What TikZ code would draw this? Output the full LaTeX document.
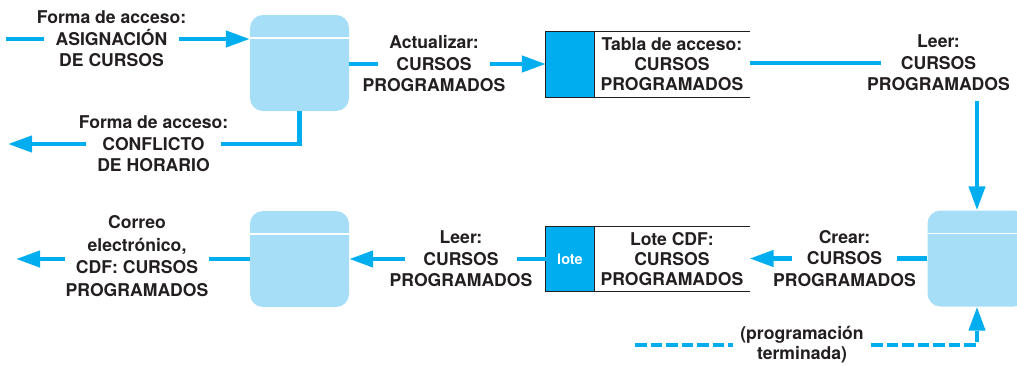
\documentclass[tikz,border=0pt]{standalone}
\usepackage{fontspec}
\setmainfont{TeX Gyre Heros}
\usepackage{tikz}
\usetikzlibrary{positioning,arrows.meta}
\definecolor{ink}{HTML}{231F20}
\definecolor{dfd}{HTML}{00AEEF}
\definecolor{pale}{HTML}{A6DEF7}
\newcommand{\lblfont}{\bfseries\fontsize{17.6}{21}\selectfont}
\tikzset{
  wire/.style={line width=4.3pt, color=dfd},
  flow/.style={wire, -{Triangle[length=24pt,width=16pt]}},
  dwire/.style={wire, dash pattern=on 11.5pt off 4pt},
  dflow/.style={flow, dash pattern=on 11.5pt off 4pt},
  proc/.style={rounded corners=13pt, fill=pale, minimum width=99pt, minimum height=96pt, inner sep=0pt,
    path picture={\draw[white, line width=1.6pt]
      ([yshift=-23pt]path picture bounding box.north west) -- ([yshift=-23pt]path picture bounding box.north east);}},
  stag/.style={fill=dfd, minimum width=48pt, minimum height=65pt, inner sep=0pt, text=white,
    font=\bfseries\fontsize{14.5}{16}\selectfont},
  stext/.style={minimum width=155pt, minimum height=65pt, inner sep=0pt, align=center, text=ink,
    font=\bfseries\fontsize{17.6}{20}\selectfont},
  rim/.style={line width=0.9pt, color=ink},
  lbl/.style={font=\lblfont, text=ink, text height=12.6pt, text depth=0pt, inner ysep=0pt, inner xsep=#1},
  lbl/.default=0pt,
  blk/.style={font=\bfseries\fontsize{17.6}{#1}\selectfont, text=ink, align=center, inner sep=0pt},
}
\begin{document}
\begin{tikzpicture}[x=1pt,y=-1pt]
  \useasboundingbox (0,0) rectangle (1017,365);
  \node[proc] (p1) at (299.5,63) {};
  \node[proc] (p2) at (299.5,259) {};
  \node[proc] (p3) at (977,258.5) {};

  \node[stag] (tag1) at (570,64.5) {};
  \node[stext, right=0pt of tag1] (st1) {Tabla de acceso:\\CURSOS\\PROGRAMADOS};
  \node[stag] (tag2) at (570,259) {lote};
  \node[stext, right=0pt of tag2] (st2) {Lote CDF:\\CURSOS\\PROGRAMADOS};
  \foreach \i in {1,2}
    \draw[rim] (st\i.north east) -- (tag\i.north west) -- (tag\i.south west) -- (st\i.south east)
      (tag\i.north east) -- (tag\i.south east);

  \coordinate (in1) at (6,39);
  \node[lbl=11pt] (asig) at (111.5,39) {ASIGNACIÓN};
  \node[lbl, above=8.4pt of asig] (asigA) {Forma de acceso:};
  \node[lbl, below=8.4pt of asig] (asigB) {DE CURSOS};
  \draw[wire] (in1) -- (asig.west);
  \draw[flow] (asig.east) -- (asig.east -| p1.west);

  \node[lbl=18pt] (upd) at (434,64) {CURSOS};
  \node[lbl, above=8.4pt of upd] (updA) {Actualizar:};
  \node[lbl, below=8.4pt of upd] (updB) {PROGRAMADOS};
  \draw[wire] (upd.west -| p1.east) -- (upd.west);
  \draw[flow] (upd.east) -- (upd.east -| tag1.west);

  \node[lbl=20pt] (rd1) at (938.5,63) {CURSOS};
  \node[lbl, above=8.4pt of rd1] (rd1A) {Leer:};
  \node[lbl, below=8.4pt of rd1] (rd1B) {PROGRAMADOS};
  \draw[wire] (rd1.west -| st1.east) -- (rd1.west);
  \draw[flow, shorten <=10pt] (rd1B.south -| p3.north) -- (p3.north);

  \coordinate (out1) at (8,144);
  \node[lbl=16pt] (cfl) at (153.5,144) {CONFLICTO};
  \node[lbl, above=8.4pt of cfl] (cflA) {Forma de acceso:};
  \node[lbl, below=8.4pt of cfl] (cflB) {DE HORARIO};
  \draw[wire] (p1.south) |- (cfl.east);
  \draw[flow] (cfl.west) -- (out1);

  \node[lbl=15pt] (mk) at (844.5,258.5) {CURSOS};
  \node[lbl, above=8.4pt of mk] (mkA) {Crear:};
  \node[lbl, below=8.4pt of mk] (mkB) {PROGRAMADOS};
  \draw[wire] (mk.east -| p3.west) -- (mk.east);
  \draw[flow] (mk.west) -- (mk.west -| st2.east);

  \node[lbl=18pt] (rd2) at (461,259) {CURSOS};
  \node[lbl, above=8.4pt of rd2] (rd2A) {Leer:};
  \node[lbl, below=8.4pt of rd2] (rd2B) {PROGRAMADOS};
  \draw[wire] (rd2.east -| tag2.west) -- (rd2.east);
  \draw[flow] (rd2.west) -- (rd2.west -| p2.east);

  \coordinate (out2) at (16,259);
  \node[blk=22.7] (mail) at (137,256) {Correo\\electrónico,\\CDF: CURSOS\\PROGRAMADOS};
  \draw[wire] (p2.west) -- (p2.west -| mail.east);
  \draw[flow] (p2.west -| mail.west) -- (out2);

  \coordinate (dst) at (635,345);
  \node[blk=20, inner xsep=7.5pt] (done) at (802,345) {(programación\\terminada)};
  \draw[dwire] (dst) -- (dst -| done.west);
  \draw[dflow] (dst -| done.east) -| (p3.south);
\end{tikzpicture}
\end{document}
